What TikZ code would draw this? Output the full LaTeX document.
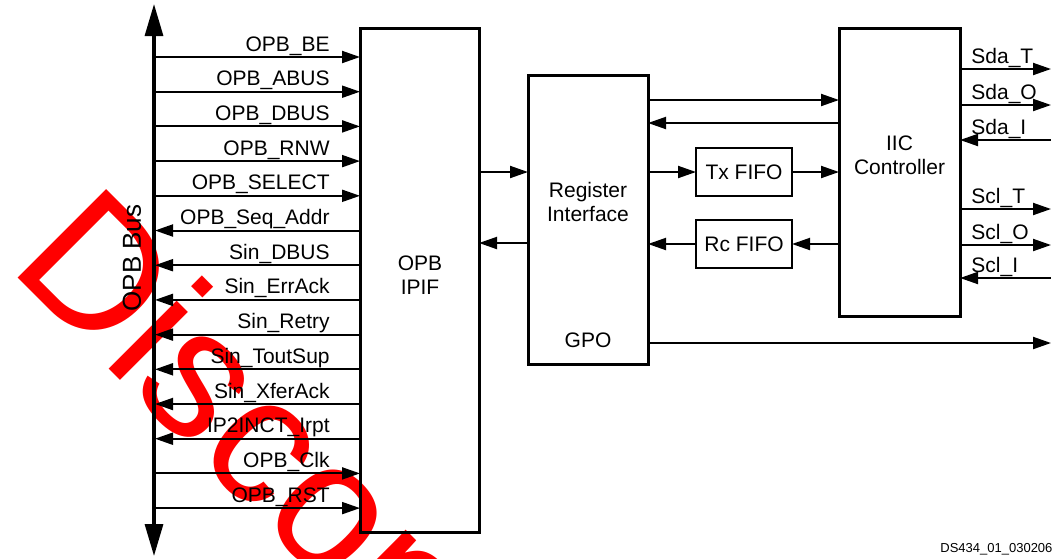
\documentclass[tikz,border=0pt]{standalone}
\usepackage{fontspec}
\setmainfont{Liberation Sans}
\usetikzlibrary{arrows.meta}
\begin{document}
\begin{tikzpicture}[x=0.5pt,y=-0.5pt,
  box/.style={draw, line width=1.5pt, inner sep=0pt, outer sep=0pt, anchor=north west},
  fifo/.style={draw, line width=1pt, inner sep=0pt, outer sep=0pt, anchor=north west,
    minimum width=48pt, minimum height=24pt, font=\fontsize{10.5}{12}\selectfont},
  sig/.style={line width=1pt},
  tor/.style={-{Triangle[length=9pt,width=6pt]}},
  tol/.style={{Triangle[length=9pt,width=6pt]}-},
  lbl/.style={font=\fontsize{10.5}{12}\selectfont, inner sep=0pt},
  wm/.style={font=\fontsize{91}{91}\selectfont, text=red, inner sep=0pt, anchor=base west, rotate=-45},
  bus/.style={line width=1.6pt, {Triangle[length=16pt,width=9pt]}-{Triangle[length=16pt,width=9pt]}}]
\useasboundingbox (0,0) rectangle (1052,558);
\begin{scope}
  \clip (0,0) rectangle (1052,558);
  \node[wm] (wm) at (7,267) {Discontinued};
\end{scope}

% OPB bus
\coordinate (bustop) at (154,4);
\coordinate (busbot) at (154,556);
\draw[bus] (busbot) -- (bustop);
\node[lbl, font=\fontsize{13}{14}\selectfont, rotate=90] (busl) at (132,258) {OPB Bus};

% blocks
\node[box, minimum width=59.5pt, minimum height=252pt] (ipif) at (360,28) {};
\node[lbl, align=center] (ipifl) at (420,275) {OPB\\IPIF};
\node[box, minimum width=60pt, minimum height=144.5pt] (reg) at (528,75) {};
\node[lbl, align=center] (regl) at (588,202) {Register\\Interface};
\node[lbl] (gpo) at (588,340) {GPO};
\node[fifo] (tx) at (696,148) {Tx FIFO};
\node[fifo] (rc) at (696,220) {Rc FIFO};
\node[box, minimum width=60.5pt, minimum height=144pt] (iic) at (839,28) {};
\node[lbl, align=center] (iicl) at (899.5,155) {IIC\\Controller};

% OPB signals
\foreach \lab/\dir [count=\k from 0] in {OPB\_BE/tor, OPB\_ABUS/tor, OPB\_DBUS/tor, OPB\_RNW/tor,
  OPB\_SELECT/tor, OPB\_Seq\_Addr/tol, Sin\_DBUS/tol, Sin\_ErrAck/tol, Sin\_Retry/tol,
  Sin\_ToutSup/tol, Sin\_XferAck/tol, IP2INCT\_Irpt/tol, OPB\_Clk/tor, OPB\_RST/tor} {
  \pgfmathsetmacro\yy{57+34.7*\k}
  \coordinate (b\k) at (155,\yy);
  \draw[sig,\dir] (b\k) -- (b\k -| ipif.west);
  \node[lbl, anchor=base east] (l\k) at (330,\yy-6) {\lab};
}

% IPIF <-> Register Interface
\coordinate (p1) at (0,172);
\coordinate (p2) at (0,243);
\draw[sig,tor] (p1 -| ipif.east) -- (p1 -| reg.west);
\draw[sig,tol] (p2 -| ipif.east) -- (p2 -| reg.west);

% Register Interface <-> IIC
\coordinate (q1) at (0,100);
\coordinate (q2) at (0,123);
\draw[sig,tor] (q1 -| reg.east) -- (q1 -| iic.west);
\draw[sig,tol] (q2 -| reg.east) -- (q2 -| iic.west);
\draw[sig,tor] (tx.west -| reg.east) -- (tx.west);
\draw[sig,tor] (tx.east) -- (tx.east -| iic.west);
\draw[sig,tol] (rc.west -| reg.east) -- (rc.west);
\draw[sig,tol] (rc.east) -- (rc.east -| iic.west);

% GPO output
\coordinate (gpoout) at (1051,343);
\draw[sig,tor] (gpoout -| reg.east) -- (gpoout);

% IIC signals
\foreach \lab/\y/\dir [count=\k] in {Sda\_T/69/tor, Sda\_O/105/tor, Sda\_I/140/tol,
  Scl\_T/209/tor, Scl\_O/245/tor, Scl\_I/278/tol} {
  \coordinate (r\k) at (1051,\y);
  \draw[sig,\dir] (r\k -| iic.east) -- (r\k);
  \node[lbl, anchor=base west] (rl\k) at (971,\y-6) {\lab};
}

\node[lbl, font=\fontsize{6.5}{7.5}\selectfont, anchor=base west] (ds) at (940,552) {DS434\_01\_030206};
\end{tikzpicture}
\end{document}
